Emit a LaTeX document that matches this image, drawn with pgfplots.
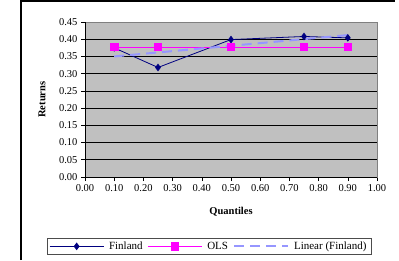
\documentclass[border=0pt]{standalone}
\usepackage{pgfplots}
\pgfplotsset{compat=1.18}
\usepackage{fontspec}
\setmainfont{Liberation Serif}
\definecolor{navyc}{RGB}{0,0,128}
\definecolor{magc}{RGB}{255,0,255}
\definecolor{trendc}{RGB}{150,150,255}
\definecolor{plotbg}{RGB}{192,192,192}
\definecolor{bordc}{RGB}{128,128,128}
\begin{document}
\begin{tikzpicture}
\fill[white] (0pt,0pt) rectangle (399pt,260pt);
\draw[black, line width=1.2pt] (21pt,0pt) -- (21pt,259pt) -- (395pt,259pt);
\begin{axis}[
  at={(85pt,83pt)}, anchor=south west,
  scale only axis, width=292pt, height=155pt,
  xmin=0, xmax=1, ymin=0, ymax=0.45,
  xtick={0,0.1,...,1.0}, ytick={0,0.05,...,0.45},
  ymajorgrids, grid style={black, line width=0.6pt},
  axis background/.style={fill=plotbg},
  axis line style={bordc, line width=0.8pt},
  tick style={black, line width=0.6pt},
  tick align=outside, major tick length=4pt,
  xtick pos=bottom, ytick pos=left,
  /pgf/number format/.cd, fixed, fixed zerofill, precision=2, assume math mode=true,
  /pgfplots/.cd,
  tick label style={font=\fontsize{10.5}{12}\selectfont},
  xlabel={\textbf{Quantiles}}, ylabel={\textbf{Returns}},
  label style={font=\fontsize{10.5}{12}\selectfont},
  xlabel style={at={(axis description cs:0.5,-0.226)}, anchor=center},
  ylabel style={at={(axis description cs:-0.147,0.5)}, anchor=center, rotate=0},
  legend columns=3,
  legend style={at={(axis description cs:0.425,-0.3935)}, anchor=north,
    draw=black!70, line width=0.6pt, font=\fontsize{11}{13}\selectfont,
    inner xsep=2pt, inner ysep=2.5pt, column sep=2.5pt,
    nodes={inner xsep=2.5pt, inner ysep=1pt}},
  legend image code/.code={\draw[mark repeat=2, mark phase=2, #1] plot coordinates {(0pt,0pt) (27pt,0pt) (54pt,0pt)};},
  clip=false,
]
\addplot[color=navyc, line width=0.8pt, mark=diamond*, mark size=3.2pt, mark options={solid, fill=navyc}]
  coordinates {(0.10,0.375) (0.25,0.318) (0.50,0.399) (0.75,0.408) (0.90,0.404)};
\addlegendentry{Finland}
\addplot[color=magc, line width=0.6pt, mark=square*, mark size=3.6pt, mark options={solid, fill=magc}]
  coordinates {(0.10,0.378) (0.25,0.378) (0.50,0.378) (0.75,0.378) (0.90,0.378)};
\addlegendentry{OLS}
\addplot[color=trendc, line width=2pt, dash pattern=on 10pt off 6pt]
  coordinates {(0.10,0.350) (0.90,0.412)};
\addlegendentry{Linear (Finland)}
\draw[black, line width=1pt] (rel axis cs:0,1) -- (rel axis cs:0,0) -- (rel axis cs:1,0);
\end{axis}
\useasboundingbox (0pt,0pt) rectangle (399pt,260pt);
\end{tikzpicture}
\end{document}
